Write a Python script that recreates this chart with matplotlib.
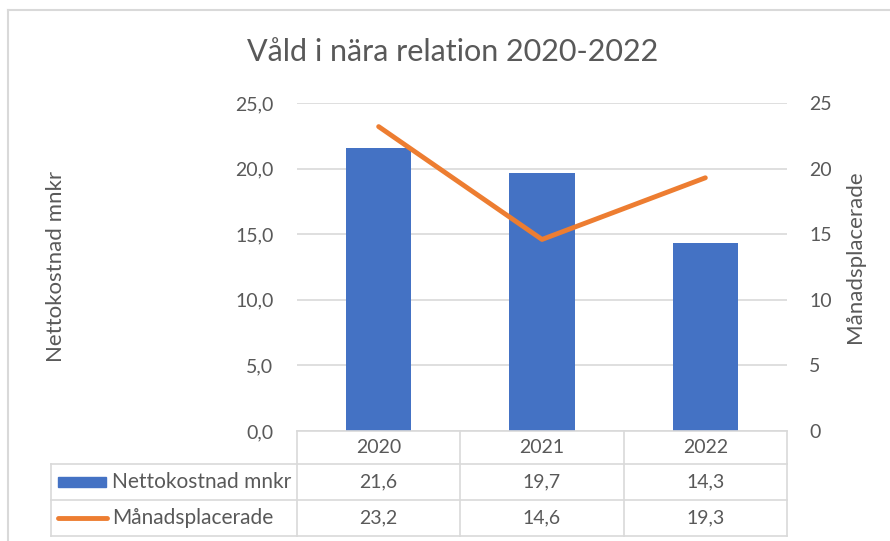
import matplotlib
matplotlib.use("Agg")
import matplotlib.pyplot as plt
from matplotlib.lines import Line2D
from matplotlib.patches import Rectangle

# ── data ───────────────────────────────────────────────────────────────────────
years = ["2020", "2021", "2022"]
nettokostnad = [21.6, 19.7, 14.3]
manadsplacerade = [23.2, 14.6, 19.3]
left_ticks = [0, 5, 10, 15, 20, 25]
right_ticks = [0, 5, 10, 15, 20, 25]

BLUE = "#4472C4"
ORANGE = "#ED7D31"
TEXT = "#595959"
GRID = "#D9D9D9"

plt.rcParams["font.family"] = ["Lato", "DejaVu Sans"]

W, H = 890, 541
fig = plt.figure(figsize=(W / 100, H / 100), dpi=100)


def fx(px):
    return px / W


def fy(py):
    return 1 - py / H


def comma(v):
    return f"{v:.1f}".replace(".", ",")


# plot area in pixels
L, R, T, B = 297, 787, 103, 431
ax = fig.add_axes([fx(L), fy(B), fx(R - L), (B - T) / H])
ax2 = ax.twinx()

x = list(range(len(years)))
ax.bar(x, nettokostnad, width=0.4, color=BLUE, zorder=3)
ax2.plot(x, manadsplacerade, color=ORANGE, linewidth=3.5, solid_capstyle="round", zorder=4)

ax.set_xlim(-0.5, len(years) - 0.5)
ax.set_ylim(0, 25)
ax2.set_ylim(0, 25)
ax.set_yticks(left_ticks)
ax.set_yticklabels([comma(v) for v in left_ticks])
ax2.set_yticks(right_ticks)
ax2.set_yticklabels([str(v) for v in right_ticks])
ax.set_xticks([])
ax.yaxis.grid(True, color=GRID, linewidth=1.2, zorder=0)
ax.set_axisbelow(True)
for a in (ax, ax2):
    for s in a.spines.values():
        s.set_visible(False)
    a.tick_params(axis="y", length=0, labelsize=14, labelcolor=TEXT)
ax.tick_params(axis="y", pad=17)
ax2.tick_params(axis="y", pad=16)

# titles and axis labels
fig.text(fx(453), fy(52), "Våld i nära relation 2020-2022", ha="center", va="center",
         fontsize=22, color=TEXT)
fig.text(fx(56), fy(266), "Nettokostnad mnkr", rotation=90, ha="center", va="center",
         fontsize=16, color=TEXT)
fig.text(fx(855), fy(257), "Månadsplacerade", rotation=90, ha="center", va="center",
         fontsize=16, color=TEXT)

# chart frame (left and top edges visible)
fig.add_artist(Line2D([fx(8), fx(8)], [fy(541), fy(10)], color=GRID, linewidth=1.5))
fig.add_artist(Line2D([fx(8), fx(890)], [fy(10), fy(10)], color=GRID, linewidth=1.5))

# ── data table ────────────────────────────────────────────────────────────────
col_x = [297, 460, 624, 787]
leg_x = 51
row_y = [431, 464, 500, 536]


def hline(x0, x1, y):
    fig.add_artist(Line2D([fx(x0), fx(x1)], [fy(y), fy(y)], color=GRID, linewidth=1.2))


def vline(x, y0, y1):
    fig.add_artist(Line2D([fx(x), fx(x)], [fy(y0), fy(y1)], color=GRID, linewidth=1.2))


hline(col_x[0], col_x[-1], row_y[0])
for y in row_y[1:]:
    hline(leg_x, col_x[-1], y)
for cx in col_x:
    vline(cx, row_y[0], row_y[-1])
vline(leg_x, row_y[1], row_y[-1])

for i, yr in enumerate(years):
    cx = (col_x[i] + col_x[i + 1]) / 2
    fig.text(fx(cx), fy((row_y[0] + row_y[1]) / 2), yr, ha="center", va="center",
             fontsize=14, color=TEXT)
    fig.text(fx(cx), fy((row_y[1] + row_y[2]) / 2), comma(nettokostnad[i]),
             ha="center", va="center", fontsize=14, color=TEXT)
    fig.text(fx(cx), fy((row_y[2] + row_y[3]) / 2), comma(manadsplacerade[i]),
             ha="center", va="center", fontsize=14, color=TEXT)

# legend keys inside the table
ym1 = (row_y[1] + row_y[2]) / 2
fig.add_artist(Rectangle((fx(58), fy(ym1 + 5)), fx(48), 10 / H, color=BLUE))
ym2 = (row_y[2] + row_y[3]) / 2
fig.add_artist(Line2D([fx(58), fx(107)], [fy(ym2), fy(ym2)], color=ORANGE, linewidth=3.5,
                      solid_capstyle="round"))
fig.text(fx(112), fy(ym1), "Nettokostnad mnkr", ha="left", va="center", fontsize=15, color=TEXT)
fig.text(fx(112), fy(ym2), "Månadsplacerade", ha="left", va="center", fontsize=15, color=TEXT)

fig.savefig("out.png", dpi=100, facecolor="white")
